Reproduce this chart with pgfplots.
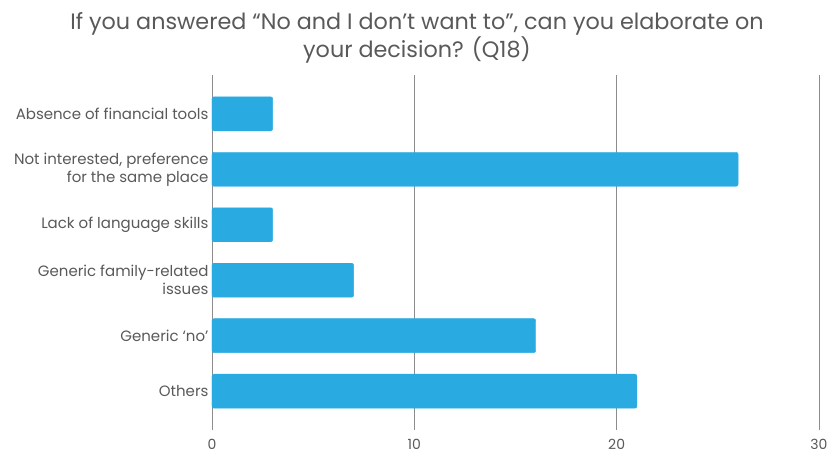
\documentclass[border=0pt]{standalone}
\usepackage{fontspec}
\setmainfont{Poppins}
\usepackage{pgfplots}
\pgfplotsset{compat=1.18}
\definecolor{barblue}{HTML}{29ABE2}
\definecolor{txtgray}{HTML}{595959}
\definecolor{gridgray}{HTML}{8C8C8C}
\begin{document}
\begin{tikzpicture}
\begin{axis}[
  at={(0,0)}, anchor=south west,
  scale only axis, width=607pt, height=355pt,
  xbar, bar width=34pt,
  xmin=0, xmax=30, ymin=-0.7, ymax=5.7,
  axis line style={draw=none},
  xmajorgrids, grid style={gridgray, line width=0.9pt},
  xtick={0,10,20,30}, ytick={0,1,2,3,4,5},
  yticklabels={Others, Generic ‘no’, {Generic family-related\\issues}, Lack of language skills, {Not interested, preference\\for the same place}, Absence of financial tools},
  major tick length=0pt,
  /pgf/number format/assume math mode=true,
  xticklabel style={font=\fontsize{14}{16}\selectfont, text=txtgray, yshift=-6pt},
  yticklabel style={font=\fontsize{15}{18}\selectfont, text=txtgray, align=right, xshift=0pt},
  clip=false,
]
\addplot[fill=barblue, draw=barblue, rounded corners=2pt] coordinates {(21,0) (16,1) (7,2) (3,3) (26,4) (3,5)};
\end{axis}
\node[font=\fontsize{22.3}{28}\selectfont, text=txtgray, align=center] at (205pt,392pt) {If you answered “No and I don’t want to”, can you elaborate on\\your decision? (Q18)};
\pgfresetboundingbox
\path (-212pt,-25pt) rectangle (619pt,430pt);
\end{tikzpicture}
\end{document}
